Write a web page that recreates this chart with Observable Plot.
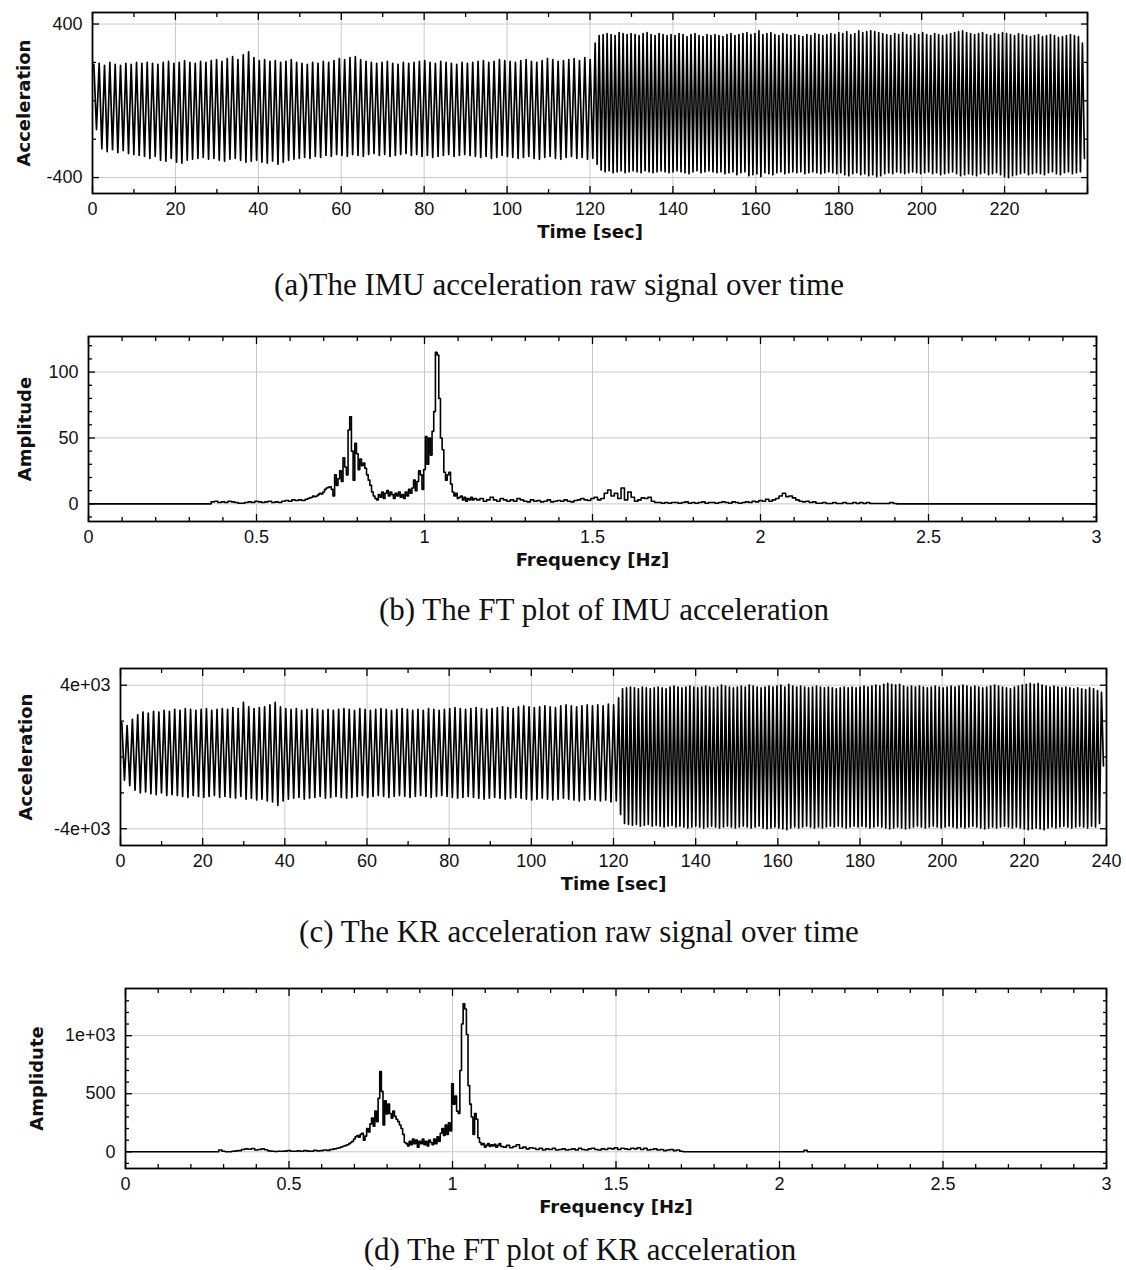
<!DOCTYPE html>
<html><head><meta charset="utf-8">
<script src="https://cdn.jsdelivr.net/npm/d3@7"></script>
<script src="https://cdn.jsdelivr.net/npm/@observablehq/plot@0.6"></script>
<style>
html,body{margin:0;padding:0;background:#fff;}
#wrap{position:relative;width:1126px;height:1270px;overflow:hidden;background:#fff;}
.panel{position:absolute;left:0;}
.cap{position:absolute;font-family:"Liberation Serif","Times New Roman",serif;font-size:31px;color:#111;white-space:nowrap;line-height:30px;transform:translateX(-50%);}
</style></head><body><div id="wrap"></div>
<script>
// ---------- (a) IMU acceleration, per-cycle peaks / troughs ----------
const segTimes = [0, 121, 239.5];
const aPeaks1 = [190,195,185,200,190,185,195,190,200,195, 200,195,190,200,205,195,200,210,200,195,
  205,200,210,215,205,220,230,215,240,255, 225,210,215,205,210,200,205,215,200,195,
  190,200,195,205,200,210,220,215,225,230, 215,205,200,195,200,205,195,190,200,195,
  200,205,210,200,195,205,200,195,190,200, 195,200,205,210,200,205,215,210,205,200,
  210,215,205,200,210,220,215,205,210,215, 220,210,225,215];
const aTroughs1 = [-150,-250,-265,-255,-270,-260,-275,-280,-285,-290, -300,-290,-310,-315,-300,-320,-325,-310,-305,-300,
  -295,-305,-300,-310,-315,-305,-300,-310,-320,-315, -310,-320,-325,-315,-330,-320,-310,-305,-300,-295,
  -300,-290,-295,-285,-290,-280,-285,-290,-280,-285, -290,-280,-275,-285,-280,-290,-285,-280,-275,-285,
  -280,-290,-285,-295,-290,-285,-280,-290,-285,-280, -285,-290,-295,-290,-300,-295,-285,-290,-295,-300,
  -295,-290,-300,-305,-295,-290,-300,-305,-295,-290, -300,-295,-305,-300];
const aPeaks2 = [300,340,345,350,345,340,355,350,345,350, 345,340,350,355,345,340,350,345,340,345,
  340,350,345,335,345,350,340,335,345,340, 345,340,335,345,350,340,345,350,355,345,
  350,365,345,350,355,345,340,350,345,340, 345,340,335,345,340,350,345,340,345,350,
  345,355,350,360,345,350,365,355,360,365, 360,355,350,345,340,350,345,355,345,340,
  350,345,355,345,340,350,345,340,345,350, 355,360,365,355,350,345,350,355,345,340,
  350,345,355,350,345,340,350,345,340,335, 340,345,335,340,345,340,330,335,340,345,
  340,335,300];
const aTroughs2 = [-330,-360,-370,-365,-375,-370,-365,-375,-370,-365, -370,-375,-365,-370,-375,-370,-365,-370,-375,-370,
  -365,-370,-375,-380,-370,-365,-375,-370,-365,-370, -375,-370,-380,-375,-370,-385,-375,-370,-390,-385,
  -380,-395,-375,-380,-385,-375,-370,-380,-375,-370, -375,-370,-380,-375,-370,-375,-380,-375,-370,-375,
  -380,-375,-385,-390,-380,-375,-385,-380,-390,-385, -395,-390,-380,-375,-380,-370,-375,-380,-375,-370,
  -375,-380,-375,-370,-380,-375,-385,-380,-375,-370, -380,-390,-385,-380,-385,-390,-380,-375,-385,-380,
  -375,-385,-395,-400,-390,-385,-380,-375,-385,-380, -375,-380,-385,-375,-370,-380,-385,-375,-370,-380,
  -375,-370,-300];

// ---------- (c) KR acceleration, per-cycle peaks / troughs ----------
const cPeaks1 = [1900,1750,2100,2350,2500,2450,2550,2500,2600,2550, 2650,2600,2700,2650,2600,2650,2700,2600,2650,2700,
  2650,2750,2700,3050,2800,2700,2750,2800,2900,3050, 2800,2700,2650,2700,2600,2650,2700,2650,2600,2650,
  2600,2650,2700,2650,2600,2700,2650,2600,2650,2700, 2650,2600,2650,2700,2650,2600,2650,2600,2700,2650,
  2600,2650,2700,2750,2700,2650,2700,2750,2700,2650, 2700,2750,2800,2750,2700,2800,2850,2800,2750,2800,
  2850,2800,2750,2850,2900,2850,2800,2850,2900,2850, 2900,2850,2950,2900];
const cTroughs1 = [-1300,-1600,-1850,-2000,-1950,-2050,-2100,-2000,-2150,-2100, -2150,-2200,-2250,-2150,-2200,-2250,-2200,-2150,-2250,-2200,
  -2250,-2300,-2200,-2350,-2300,-2400,-2350,-2450,-2500,-2700, -2450,-2350,-2300,-2250,-2350,-2300,-2250,-2200,-2300,-2250,
  -2200,-2250,-2300,-2250,-2200,-2150,-2250,-2200,-2150,-2200, -2250,-2200,-2150,-2200,-2250,-2200,-2150,-2200,-2250,-2200,
  -2150,-2200,-2250,-2300,-2250,-2200,-2250,-2300,-2350,-2300, -2250,-2300,-2350,-2300,-2250,-2300,-2350,-2400,-2350,-2300,
  -2350,-2400,-2350,-2300,-2350,-2400,-2450,-2400,-2350,-2400, -2450,-2400,-2500,-2450];
const cPeaks2 = [3300,3800,3850,3900,3850,3800,3900,3850,3800,3850, 3900,3850,3800,3900,3950,3900,3850,3900,3950,3900,
  3850,3900,3950,3900,3850,3900,4000,3950,3900,3850, 3900,3950,3900,4000,3950,3900,3850,3900,3950,3900,
  3950,4000,3900,4050,3950,3900,3950,3900,3850,3900, 3950,3900,3850,3900,3850,3800,3850,3900,3850,3900,
  3850,3900,3950,3900,3950,4000,3950,4050,4100,4050, 4000,4050,3950,3900,3950,3900,3950,3900,3850,3900,
  3950,3900,3850,3900,3950,3900,3950,4000,3950,3900, 3950,3900,3850,3900,3950,4000,3950,3900,3850,3800,
  3900,3950,4000,4050,4100,4050,4100,4000,3950,3900, 3950,3900,3850,3900,3850,3800,3850,3800,3750,3850,
  3800,3700,3600];
const cTroughs2 = [-3200,-3700,-3750,-3800,-3750,-3850,-3800,-3750,-3850,-3800, -3850,-3900,-3850,-3800,-3900,-3850,-3900,-3950,-3900,-3850,
  -3900,-3950,-3900,-3850,-3900,-3950,-3900,-3850,-3900,-3950, -3900,-3850,-3900,-3950,-3900,-3850,-3950,-4000,-3950,-3900,
  -3950,-4000,-4050,-3950,-3900,-3950,-3900,-3850,-3900,-3950, -3900,-3950,-3900,-3850,-3900,-3850,-3900,-3950,-3900,-3850,
  -3900,-3850,-3900,-3950,-3900,-3850,-3900,-3950,-4000,-3950, -3900,-3950,-4000,-3950,-3900,-3850,-3900,-3950,-3900,-3850,
  -3900,-3950,-3900,-3850,-3900,-3950,-3900,-3950,-3900,-3850, -3900,-3950,-4000,-3950,-3900,-3950,-3900,-3850,-3900,-3950,
  -3900,-3950,-4000,-4050,-4000,-3950,-4000,-4050,-3950,-3900, -3950,-3900,-3850,-3900,-3950,-3900,-3850,-3900,-3950,-3850,
  -3900,-3700,-500];

// ---------- (b) FT of IMU acceleration ----------
const bLowStart = 0.37, bLowStep = 0.01;
const bLowAmp = [1.5,2,1,1.5,1,2,1.5,1,0.5,0.5, 1,1.5,1,2,1.5,1,1.5,2,1,1.5, 1,2,2.5,2,3,2.5,3,2.5,3.5];
const bPeakStart = 0.655, bPeakStep = 0.005;
const bPeakAmp = [4,4.5,5,6,5.5,6,7,8,7.5,9, 11,12,12.5,13,11,6,22,14,19,25, 17,35,28,22,56,66,40,18,46,38,
  26,34,29,31,27,22,18,14,9,6, 4,3,7,5,9,4,8,10,6,9, 7,4,8,6,9,5,7,4,9,6,
  11,8,12,18,10,17,25,22,11,26, 51,30,50,37,55,70,115,113,80,50, 41,24,18,22,24,15,9,6,8,4,
  5,6,3,5,2,4,3,5,3,4];
const bHighStart = 1.16, bHighStep = 0.01;
const bHighAmp = [3,4,2,3,5,3,2,4,3,2, 3,2,4,3,2,1.5,3,2,2.5,1.5, 2,3,1.5,2,2.5,2,3,2,1.5,2.5,
  3,4,3,2.5,4,5,3,4,8,10.5, 6,8,4,12,3,9,5,2,3,4.5, 4,5,2,1,1,0.5,1,0.5,1,1,
  0.5,1,1.5,0.5,1,0.5,1,1.5,0.5,1, 1,0.5,1,1.5,1,0.5,1.5,1,0.5,1, 1.5,1,2,1.5,2.5,2,3.5,2,3,4,
  6,8,5.5,6,4.5,3,2,1.5,2,1, 1.5,0.5,0.5,1,0.3,0.3,1,0.3,0.3,1, 0.3,0.3,1,0.3,1,0.3,1,0.3,0.3,0.3,
  0.3,0.3,0.3,1,0.3];
const bZeroEnds = [[0, 0], [0.36, 0], [2.41, 0], [3, 0]];

// ---------- (d) FT of KR acceleration ----------
const dLowStart = 0.28, dLowStep = 0.01;
const dLowAmp = [0,15,5,0,0,5,8,10,20,25, 22,28,15,20,25,18,8,5,3,5, 4,6,10,5,4,8,5,10,6,5, 12,8,10,15,12,20,25,30];
const dPeakStart = 0.655, dPeakStep = 0.005;
const dPeakAmp = [35,40,45,50,55,60,70,80,90,110, 130,140,125,150,160,100,135,200,170,240,
  290,220,350,260,460,690,520,230,440,325, 410,330,290,350,305,280,260,230,200,150,
  80,70,50,90,60,110,70,100,40,90, 70,110,60,90,50,100,80,60,110,70,
  130,90,160,200,140,230,150,250,180,585, 410,480,350,330,700,1100,1275,1230,1010,570,
  410,300,150,330,280,120,80,60,70,40, 55,70,45,60,50,65,40,55,70,45];
const dHighStart = 1.16, dHighStep = 0.01;
const dHighAmp = [40,55,35,45,60,30,40,25,35,30, 20,30,15,25,20,30,15,20,25,15, 20,25,15,30,20,15,25,30,20,15,
  25,20,30,25,35,20,30,25,20,30, 25,35,20,30,15,20,25,15,20,10, 15,20,10,15,5];
const dZeroEnds = [[0, 0], [0.27, 0], [1.71, 0], [2.07, 0], [2.08, 12], [2.09, 0], [3, 0]];

// ---------- ticks & labels ----------
const timeTicks = [0,20,40,60,80,100,120,140,160,180,200,220,240];
const timeLabelsA = ["0","20","40","60","80","100","120","140","160","180","200","220",""];
const timeLabelsC = ["0","20","40","60","80","100","120","140","160","180","200","220","240"];
const freqTicks = [0,0.5,1,1.5,2,2.5,3];
const freqLabels = ["0","0.5","1","1.5","2","2.5","3"];
const aYTicks = [-400, 400], aYLabels = ["-400", "400"];
const bYTicks = [0, 50, 100], bYLabels = ["0", "50", "100"];
const cYTicks = [-4000, 4000], cYLabels = ["-4e+03", "4e+03"];
const dYTicks = [0, 500, 1000], dYLabels = ["0", "500", "1e+03"];
const captions = ["(a)The IMU acceleration raw signal over time", "(b) The FT plot of IMU acceleration",
  "(c) The KR acceleration raw signal over time", "(d) The FT plot of KR acceleration"];

// ---------- build series ----------
function cycles(peaks, troughs, t0, t1) {
  const n = Math.min(peaks.length, troughs.length), P = (t1 - t0) / n;
  const out = [];
  for (let i = 0; i < n; i++) {
    out.push({t: t0 + (i + 0.25) * P, v: peaks[i]});
    out.push({t: t0 + (i + 0.75) * P, v: troughs[i]});
  }
  return out;
}
function grid(start, step, arr) { return arr.map((a, i) => ({f: +(start + i * step).toFixed(4), a})); }
const aSeries = [...cycles(aPeaks1, aTroughs1, segTimes[0], segTimes[1]), ...cycles(aPeaks2, aTroughs2, segTimes[1], segTimes[2])];
const cSeries = [...cycles(cPeaks1, cTroughs1, segTimes[0], segTimes[1]), ...cycles(cPeaks2, cTroughs2, segTimes[1], segTimes[2])];
const bSeries = [...bZeroEnds.map(([f, a]) => ({f, a})), ...grid(bLowStart, bLowStep, bLowAmp), ...grid(bPeakStart, bPeakStep, bPeakAmp), ...grid(bHighStart, bHighStep, bHighAmp)].sort((p, q) => p.f - q.f);
const dSeries = [...dZeroEnds.map(([f, a]) => ({f, a})), ...grid(dLowStart, dLowStep, dLowAmp), ...grid(dPeakStart, dPeakStep, dPeakAmp), ...grid(dHighStart, dHighStep, dHighAmp)].sort((p, q) => p.f - q.f);

// ---------- panel builder ----------
const W = 1126;
const TICKFONT = "Liberation Sans, Arial, sans-serif";
const TITLEFONT = "DejaVu Sans, Verdana, sans-serif";
function panel(o) {
  const xl = new Map(o.xTicks.map((v, i) => [v, o.xLabels[i]]));
  const yl = new Map(o.yTicks.map((v, i) => [v, o.yLabels[i]]));
  const gridC = "#c9c9c9";
  const tk = {fill: "none", label: null, strokeWidth: 1.3};
  const svg = Plot.plot({
    width: W, height: o.h,
    marginLeft: o.L, marginRight: W - o.R, marginTop: o.T - o.top, marginBottom: o.top + o.h - o.B,
    x: {domain: o.xDomain}, y: {domain: o.yDomain},
    style: {background: "white", overflow: "visible"},
    marks: [
      Plot.gridX(o.xTicks, {stroke: gridC, strokeOpacity: 1, strokeWidth: 1}),
      Plot.gridY(o.yTicks, {stroke: gridC, strokeOpacity: 1, strokeWidth: 1}),
      o.mark,
      Plot.axisX(o.xMinor, {anchor: "bottom", tickSize: -4, ...tk}),
      Plot.axisX(o.xMinor, {anchor: "top", tickSize: -4, ...tk}),
      Plot.axisX(o.xTicks, {anchor: "bottom", tickSize: -7, ...tk}),
      Plot.axisX(o.xTicks, {anchor: "top", tickSize: -7, ...tk}),
      Plot.axisY(o.yMinor, {anchor: "left", tickSize: -4, ...tk}),
      Plot.axisY(o.yMinor, {anchor: "right", tickSize: -4, ...tk}),
      Plot.axisY(o.yTicks, {anchor: "left", tickSize: -7, ...tk}),
      Plot.axisY(o.yTicks, {anchor: "right", tickSize: -7, ...tk}),
      Plot.axisX(o.xTicks, {anchor: "bottom", tickSize: 0, tickPadding: 9, tickFormat: d => xl.get(d), fontSize: 18, fontFamily: TICKFONT, label: null, fill: "#111"}),
      Plot.axisY(o.yTicks, {anchor: "left", tickSize: 0, tickPadding: 10, tickFormat: d => yl.get(d), fontSize: 18, fontFamily: TICKFONT, label: null, fill: "#111"}),
      Plot.frame({stroke: "black", strokeWidth: 1.8}),
      Plot.text([o.xTitle], {frameAnchor: "bottom", dy: 39, textAnchor: "middle", lineAnchor: "middle", fontWeight: "bold", fontSize: 18, fontFamily: TITLEFONT, fill: "#111"}),
      Plot.text([o.yTitle], {frameAnchor: "left", dx: o.yTitleDx, rotate: -90, textAnchor: "middle", lineAnchor: "middle", fontWeight: "bold", fontSize: 18, fontFamily: TITLEFONT, fill: "#111"})
    ]
  });
  svg.classList.add("panel");
  svg.style.top = o.top + "px";
  svg.style.position = "absolute";
  return svg;
}

const timeMinor = d3.range(10, 240, 20);
const freqMinor = d3.range(1, 30).filter(k => k % 5).map(k => k / 10);
const wrap = document.getElementById("wrap");

wrap.appendChild(panel({top: 0, h: 255, L: 92, R: 1087, T: 12, B: 193,
  xDomain: [0, 240], yDomain: [-483, 460],
  xTicks: timeTicks, xLabels: timeLabelsA, xMinor: timeMinor,
  yTicks: aYTicks, yLabels: aYLabels, yMinor: [-200, 0, 200],
  xTitle: "Time [sec]", yTitle: "Acceleration", yTitleDx: -68,
  mark: Plot.line(aSeries, {x: "t", y: "v", stroke: "black", strokeWidth: 1.7, clip: true})}));

wrap.appendChild(panel({top: 320, h: 250, L: 88, R: 1096, T: 336, B: 521,
  xDomain: [0, 3], yDomain: [-13.4, 127],
  xTicks: freqTicks, xLabels: freqLabels, xMinor: freqMinor,
  yTicks: bYTicks, yLabels: bYLabels, yMinor: [-10, 10, 20, 30, 40, 60, 70, 80, 90, 110, 120],
  xTitle: "Frequency [Hz]", yTitle: "Amplitude", yTitleDx: -63,
  mark: Plot.line(bSeries, {x: "f", y: "a", stroke: "black", strokeWidth: 1.6, curve: "step", clip: true})}));

wrap.appendChild(panel({top: 650, h: 250, L: 120, R: 1106, T: 668, B: 845,
  xDomain: [0, 240], yDomain: [-4932, 4932],
  xTicks: timeTicks, xLabels: timeLabelsC, xMinor: timeMinor,
  yTicks: cYTicks, yLabels: cYLabels, yMinor: [-2000, 0, 2000],
  xTitle: "Time [sec]", yTitle: "Acceleration", yTitleDx: -94,
  mark: Plot.line(cSeries, {x: "t", y: "v", stroke: "black", strokeWidth: 1.7, clip: true})}));

wrap.appendChild(panel({top: 975, h: 250, L: 125, R: 1106, T: 988, B: 1168,
  xDomain: [0, 3], yDomain: [-144, 1406],
  xTicks: freqTicks, xLabels: freqLabels, xMinor: freqMinor,
  yTicks: dYTicks, yLabels: dYLabels, yMinor: [-100, 100, 200, 300, 400, 600, 700, 800, 900, 1100, 1200, 1300],
  xTitle: "Frequency [Hz]", yTitle: "Amplidute", yTitleDx: -88,
  mark: Plot.line(dSeries, {x: "f", y: "a", stroke: "black", strokeWidth: 1.6, curve: "step", clip: true})}));

const capPos = [[559, 285], [604, 610], [579, 932], [580, 1250]];
captions.forEach((c, i) => {
  const d = document.createElement("div");
  d.className = "cap";
  d.textContent = c;
  d.style.left = capPos[i][0] + "px";
  d.style.top = (capPos[i][1] - 15) + "px";
  wrap.appendChild(d);
});
</script></body></html>
